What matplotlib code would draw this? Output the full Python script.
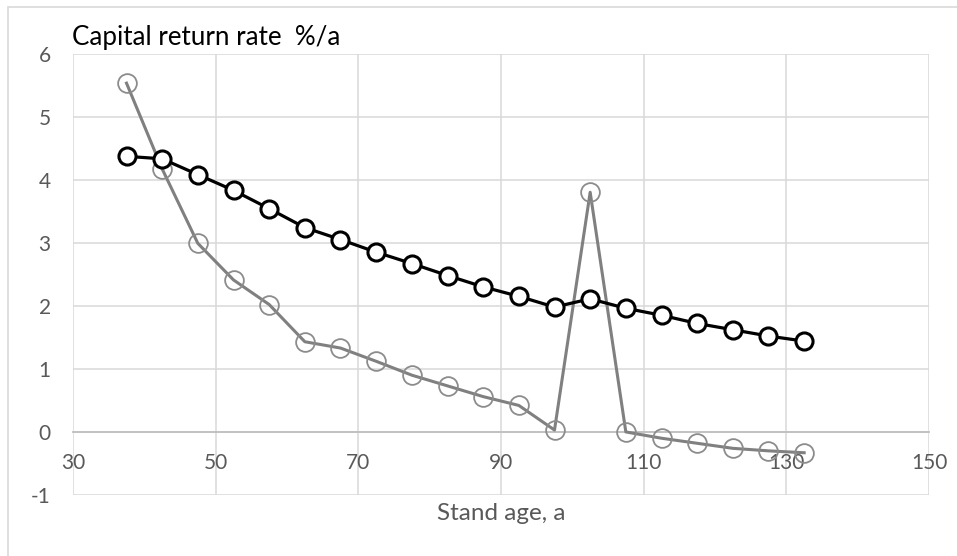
import matplotlib
matplotlib.use("Agg")
import matplotlib.pyplot as plt
from matplotlib.patches import Rectangle

plt.rcParams['font.family'] = ['Lato', 'DejaVu Sans']
plt.rcParams['axes.unicode_minus'] = False

stand_age = [37.5, 42.5, 47.5, 52.5, 57.5, 62.5, 67.5, 72.5, 77.5, 82.5,
             87.5, 92.5, 97.5, 102.5, 107.5, 112.5, 117.5, 122.5, 127.5, 132.5]
black_series = [4.37, 4.33, 4.08, 3.83, 3.54, 3.24, 3.05, 2.85, 2.67, 2.48,
                2.30, 2.15, 1.98, 2.11, 1.96, 1.85, 1.72, 1.62, 1.52, 1.44]
gray_series = [5.53, 4.17, 2.99, 2.41, 2.02, 1.43, 1.33, 1.12, 0.90, 0.73,
               0.56, 0.42, 0.03, 3.80, 0.00, -0.10, -0.18, -0.26, -0.30, -0.33]
x_ticks = [30, 50, 70, 90, 110, 130, 150]
y_ticks = [-1, 0, 1, 2, 3, 4, 5, 6]

W, H = 957, 556
fig = plt.figure(figsize=(W / 100, H / 100), dpi=100)
fig.patch.set_facecolor('white')

# outer chart border
fig.patches.append(Rectangle((8 / W, -0.1), 1.2, 1 - 7 / H + 0.1,
                             transform=fig.transFigure, fill=False,
                             edgecolor='#d9d9d9', linewidth=1.2, zorder=0))

ax = fig.add_axes([73 / W, 1 - 495 / H, (929 - 73) / W, (495 - 53.5) / H])
ax.set_xlim(30, 150)
ax.set_ylim(-1, 6)
ax.set_xticks(x_ticks)
ax.set_yticks(y_ticks)
ax.grid(True, color='#d9d9d9', linewidth=1.1)
ax.set_axisbelow(True)

for s in ['top', 'right', 'left']:
    ax.spines[s].set_visible(False)
ax.spines['bottom'].set_position(('data', 0))
ax.spines['bottom'].set_color('#bfbfbf')
ax.spines['bottom'].set_linewidth(1.3)

ax.tick_params(axis='both', length=0, labelcolor='#595959', labelsize=15)
ax.tick_params(axis='x', pad=15)
ax.tick_params(axis='y', pad=16)

ax.plot(stand_age, gray_series, color='#808080', linewidth=2.2,
        marker='o', markersize=13.5, markerfacecolor='none',
        markeredgecolor='#8c8c8c', markeredgewidth=1.3, zorder=3)
ax.plot(stand_age, black_series, color='black', linewidth=2.3,
        marker='o', markersize=12.3, markerfacecolor='white',
        markeredgecolor='black', markeredgewidth=2.2, zorder=4)

ax.set_xlabel('Stand age, a', color='#595959', fontsize=17.5)
ax.xaxis.set_label_coords(0.5, -0.018)

fig.text(72 / W, 1 - 45 / H, 'Capital return rate  %/a', fontsize=18.7,
         color='black', ha='left', va='baseline')

fig.savefig('out.png', dpi=100, facecolor='white')
